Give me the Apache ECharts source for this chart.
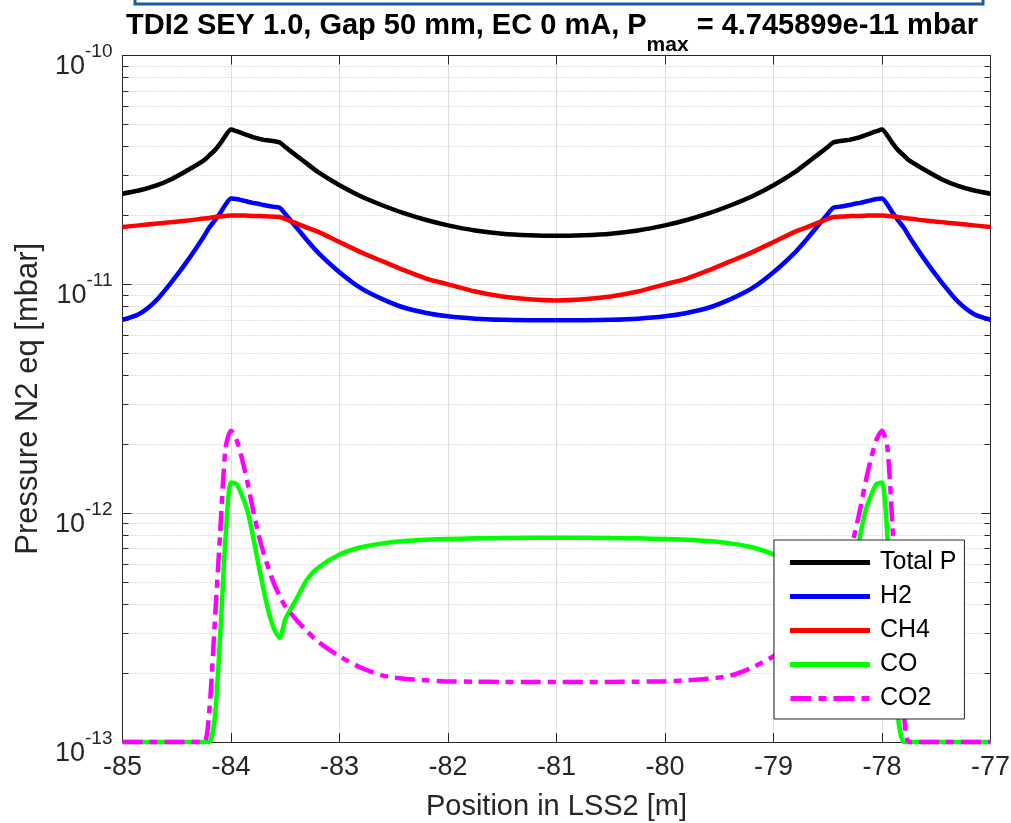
<!DOCTYPE html>
<html>
<head>
<meta charset="utf-8">
<script src="https://cdn.jsdelivr.net/npm/echarts@6/dist/echarts.min.js"></script>
<style>
html,body{margin:0;padding:0;background:#fff;}
#chart{width:1011px;height:823px;}
</style>
</head>
<body>
<div id="chart"></div>
<script>
// Position in LSS2 [m]
const positions = [
  -85, -84.85, -84.7, -84.55, -84.4, -84.25, -84.2, -84.15, -84.1, -84.05,
  -84.0, -83.95, -83.9, -83.85, -83.8, -83.75, -83.7, -83.65, -83.6, -83.55,
  -83.5, -83.4, -83.3, -83.2, -83.0, -82.8, -82.6, -82.4, -82.2, -82.0,
  -81.75, -81.5, -81.25, -81.0,
  -80.75, -80.5, -80.25, -80.0, -79.8, -79.6, -79.4, -79.2, -79.0, -78.8,
  -78.7, -78.6, -78.5, -78.45, -78.4, -78.35, -78.3, -78.25, -78.2, -78.15,
  -78.1, -78.05, -78.0, -77.95, -77.9, -77.85, -77.8, -77.75, -77.6, -77.45,
  -77.3, -77.15, -77.0
];

const totalP = [
  2.49e-11, 2.57e-11, 2.69e-11, 2.88e-11, 3.15e-11, 3.48e-11, 3.66e-11, 3.85e-11, 4.12e-11, 4.47e-11,
  4.746e-11, 4.67e-11, 4.58e-11, 4.49e-11, 4.40e-11, 4.34e-11, 4.28e-11, 4.25e-11, 4.22e-11, 4.17e-11,
  3.98e-11, 3.66e-11, 3.37e-11, 3.10e-11, 2.71e-11, 2.42e-11, 2.21e-11, 2.04e-11, 1.91e-11, 1.81e-11,
  1.72e-11, 1.665e-11, 1.64e-11, 1.63e-11,
  1.64e-11, 1.665e-11, 1.72e-11, 1.81e-11, 1.91e-11, 2.04e-11, 2.21e-11, 2.42e-11, 2.71e-11, 3.10e-11,
  3.37e-11, 3.66e-11, 3.98e-11, 4.17e-11, 4.22e-11, 4.25e-11, 4.28e-11, 4.34e-11, 4.40e-11, 4.49e-11,
  4.58e-11, 4.67e-11, 4.746e-11, 4.47e-11, 4.12e-11, 3.85e-11, 3.66e-11, 3.48e-11, 3.15e-11, 2.88e-11,
  2.69e-11, 2.57e-11, 2.49e-11
];

const h2 = [
  7.0e-12, 7.4e-12, 8.4e-12, 1.02e-11, 1.27e-11, 1.62e-11, 1.77e-11, 1.90e-11, 2.05e-11, 2.23e-11,
  2.37e-11, 2.36e-11, 2.33e-11, 2.30e-11, 2.27e-11, 2.25e-11, 2.22e-11, 2.20e-11, 2.18e-11, 2.16e-11,
  2.03e-11, 1.78e-11, 1.56e-11, 1.38e-11, 1.13e-11, 9.6e-12, 8.6e-12, 7.9e-12, 7.5e-12, 7.25e-12,
  7.08e-12, 7.0e-12, 6.97e-12, 6.96e-12,
  6.97e-12, 7.0e-12, 7.08e-12, 7.25e-12, 7.5e-12, 7.9e-12, 8.6e-12, 9.6e-12, 1.13e-11, 1.38e-11,
  1.56e-11, 1.78e-11, 2.03e-11, 2.16e-11, 2.18e-11, 2.20e-11, 2.22e-11, 2.25e-11, 2.27e-11, 2.30e-11,
  2.33e-11, 2.36e-11, 2.37e-11, 2.23e-11, 2.05e-11, 1.90e-11, 1.77e-11, 1.62e-11, 1.27e-11, 1.02e-11,
  8.4e-12, 7.4e-12, 7.0e-12
];

const ch4 = [
  1.78e-11, 1.81e-11, 1.84e-11, 1.87e-11, 1.90e-11, 1.94e-11, 1.95e-11, 1.97e-11, 1.98e-11, 1.99e-11,
  2.0e-11, 2.0e-11, 2.0e-11, 1.995e-11, 1.99e-11, 1.99e-11, 1.985e-11, 1.98e-11, 1.975e-11, 1.97e-11,
  1.93e-11, 1.85e-11, 1.77e-11, 1.70e-11, 1.53e-11, 1.38e-11, 1.26e-11, 1.15e-11, 1.06e-11, 1.0e-11,
  9.3e-12, 8.85e-12, 8.6e-12, 8.5e-12,
  8.6e-12, 8.85e-12, 9.3e-12, 1.0e-11, 1.06e-11, 1.15e-11, 1.26e-11, 1.38e-11, 1.53e-11, 1.70e-11,
  1.77e-11, 1.85e-11, 1.93e-11, 1.97e-11, 1.975e-11, 1.98e-11, 1.985e-11, 1.99e-11, 1.99e-11, 1.995e-11,
  2.0e-11, 2.0e-11, 2.0e-11, 1.99e-11, 1.98e-11, 1.97e-11, 1.95e-11, 1.94e-11, 1.90e-11, 1.87e-11,
  1.84e-11, 1.81e-11, 1.78e-11
];

const co = [
  1e-13, 1e-13, 1e-13, 1e-13, 1e-13, 1e-13, 1e-13, 1.26e-13, 2.9e-13, 7.9e-13,
  1.36e-12, 1.34e-12, 1.2e-12, 1.03e-12, 8.05e-13, 6.07e-13, 4.64e-13, 3.66e-13, 3.1e-13, 2.85e-13,
  3.43e-13, 4.19e-13, 5.12e-13, 5.76e-13, 6.6e-13, 7.1e-13, 7.38e-13, 7.55e-13, 7.65e-13, 7.71e-13,
  7.76e-13, 7.78e-13, 7.8e-13, 7.8e-13,
  7.8e-13, 7.78e-13, 7.76e-13, 7.71e-13, 7.65e-13, 7.55e-13, 7.38e-13, 7.1e-13, 6.6e-13, 5.76e-13,
  5.12e-13, 4.19e-13, 3.43e-13, 2.85e-13, 3.1e-13, 3.66e-13, 4.64e-13, 6.07e-13, 8.05e-13, 1.03e-12,
  1.2e-12, 1.34e-12, 1.36e-12, 7.9e-13, 2.9e-13, 1.26e-13, 1e-13, 1e-13, 1e-13, 1e-13,
  1e-13, 1e-13, 1e-13
];

const co2 = [
  1e-13, 1e-13, 1e-13, 1e-13, 1e-13, 1e-13, 1.37e-13, 3.3e-13, 8.2e-13, 1.93e-12,
  2.29e-12, 2.1e-12, 1.74e-12, 1.38e-12, 1.05e-12, 8.2e-13, 6.7e-13, 5.66e-13, 4.87e-13, 4.34e-13,
  3.92e-13, 3.43e-13, 3.05e-13, 2.75e-13, 2.37e-13, 2.11e-13, 1.95e-13, 1.89e-13, 1.86e-13, 1.84e-13,
  1.835e-13, 1.83e-13, 1.83e-13, 1.83e-13,
  1.83e-13, 1.83e-13, 1.835e-13, 1.84e-13, 1.86e-13, 1.89e-13, 1.95e-13, 2.11e-13, 2.37e-13, 2.75e-13,
  3.05e-13, 3.43e-13, 3.92e-13, 4.34e-13, 4.87e-13, 5.66e-13, 6.7e-13, 8.2e-13, 1.05e-12, 1.38e-12,
  1.74e-12, 2.1e-12, 2.29e-12, 1.93e-12, 8.2e-13, 3.3e-13, 1.37e-13, 1e-13, 1e-13, 1e-13,
  1e-13, 1e-13, 1e-13
];

const seriesNames = ['Total P', 'H2', 'CH4', 'CO', 'CO2'];
const seriesColors = ['#000000', '#0000ff', '#ff0000', '#00ff00', '#ff00ff'];
const seriesValues = [totalP, h2, ch4, co, co2];

// minor log grid values (2..9 x each decade)
const minorTickValues = [
  2e-13, 3e-13, 4e-13, 5e-13, 6e-13, 7e-13, 8e-13, 9e-13,
  2e-12, 3e-12, 4e-12, 5e-12, 6e-12, 7e-12, 8e-12, 9e-12,
  2e-11, 3e-11, 4e-11, 5e-11, 6e-11, 7e-11, 8e-11, 9e-11
];

const xMin = -85, xMax = -77, xInterval = 1;
const yMin = 1e-13, yMax = 1e-10;
const minorTickLen = 0.055; // in x units

const FONT = "'Liberation Sans', Arial, sans-serif";
const AX = '#262626';

function pairs(vals) {
  return positions.map((x, i) => [x, vals[i]]);
}

const series = seriesNames.map((name, i) => ({
  name: name,
  type: 'line',
  data: pairs(seriesValues[i]),
  symbol: 'none',
  showSymbol: false,
  smooth: 0.25,
  clip: false,
  z: 3,
  color: seriesColors[i],
  lineStyle: {
    color: seriesColors[i],
    width: 4.5,
    type: name === 'CO2' ? [20, 7, 8, 7] : 'solid'
  }
}));

// helper series: minor dotted grid + minor ticks on both sides
const gridLines = minorTickValues.map(v => [
  {coord: [xMin, v]}, {coord: [xMax, v]}
]);
const tickLines = [];
minorTickValues.forEach(v => {
  tickLines.push([{coord: [xMin, v]}, {coord: [xMin + minorTickLen, v]}]);
  tickLines.push([{coord: [xMax - minorTickLen, v]}, {coord: [xMax, v]}]);
});

function helperSeries(name, lines, style) {
  return {
    name: name,
    type: 'line',
    data: [[xMin, yMin], [xMax, yMin]],
    symbol: 'none',
    showSymbol: false,
    lineStyle: {opacity: 0, width: 0},
    z: 1,
    silent: true,
    markLine: {
      z: 1,
      silent: true,
      symbol: ['none', 'none'],
      label: {show: false},
      animation: false,
      lineStyle: style,
      data: lines
    }
  };
}
series.unshift(helperSeries('minorTicks', tickLines, {color: AX, width: 1, type: 'solid'}));
series.unshift(helperSeries('minorGrid', gridLines, {color: '#c4c4c4', width: 1, type: [1, 2]}));

const legendData = [
  {name: 'Total P', icon: 'rect'},
  {name: 'H2', icon: 'rect'},
  {name: 'CH4', icon: 'rect'},
  {name: 'CO', icon: 'rect'},
  {name: 'CO2', icon: 'path://M0,0H21V5H0Z M28,0H36V5H28Z M43,0H64V5H43Z M71,0H79V5H71Z'}
];

const chart = echarts.init(document.getElementById('chart'), null, {renderer: 'canvas'});
chart.setOption({
  backgroundColor: '#ffffff',
  animation: false,
  title: {
    text: '{a|TDI2 SEY 1.0, Gap 50 mm, EC 0 mA, P}{b|max}{a| = 4.745899e-11 mbar}',
    left: 121,
    top: 6,
    textStyle: {
      rich: {
        a: {fontSize: 29, fontWeight: 'bold', fontFamily: FONT, color: '#000', lineHeight: 32, verticalAlign: 'top'},
        b: {fontSize: 21, fontWeight: 'bold', fontFamily: FONT, color: '#000', lineHeight: 22, padding: [24, 0, 0, 0], verticalAlign: 'top'}
      }
    }
  },
  graphic: [{
    type: 'rect',
    shape: {x: 135, y: -10, width: 848, height: 14},
    style: {fill: 'none', stroke: '#1c5aa6', lineWidth: 3},
    silent: true
  }],
  grid: {left: 122.5, right: 20.5, top: 55.5, bottom: 81, containLabel: false, outerBoundsMode: 'none'},
  legend: {
    orient: 'vertical',
    left: 774,
    top: 540,
    z: 10,
    itemWidth: 80,
    itemHeight: 5,
    itemGap: 9,
    padding: [10, 8, 8, 16],
    backgroundColor: '#ffffff',
    borderColor: AX,
    borderWidth: 1,
    textStyle: {fontSize: 25, lineHeight: 24, color: '#000', fontFamily: FONT, padding: [0, 0, 0, 5]},
    data: legendData
  },
  xAxis: [{
    type: 'value',
    min: xMin, max: xMax, interval: xInterval,
    position: 'bottom',
    name: 'Position in LSS2 [m]',
    nameLocation: 'middle',
    nameGap: 50,
    nameTextStyle: {fontSize: 29, color: AX, fontFamily: FONT},
    axisLine: {show: true, onZero: false, lineStyle: {color: AX, width: 1}},
    axisTick: {show: true, inside: true, length: 9, lineStyle: {color: AX}},
    axisLabel: {fontSize: 27, color: AX, fontFamily: FONT, margin: 12},
    splitLine: {show: true, lineStyle: {color: '#dedede', width: 1}}
  }, {
    type: 'value',
    min: xMin, max: xMax, interval: xInterval,
    position: 'top',
    axisLine: {show: true, onZero: false, lineStyle: {color: AX, width: 1}},
    axisTick: {show: true, inside: true, length: 9, lineStyle: {color: AX}},
    axisLabel: {show: false},
    splitLine: {show: false}
  }],
  yAxis: [{
    type: 'log',
    logBase: 10,
    min: yMin, max: yMax,
    position: 'left',
    name: 'Pressure N2 eq [mbar]',
    nameLocation: 'middle',
    nameGap: 71,
    nameTextStyle: {fontSize: 31, color: AX, fontFamily: FONT},
    axisLine: {show: true, onZero: false, lineStyle: {color: AX, width: 1}},
    axisTick: {show: true, inside: true, length: 9, lineStyle: {color: AX}},
    axisLabel: {
      margin: 10,
      formatter: function (v) {
        const e = Math.round(Math.log(v) / Math.LN10);
        return '{b|10}{s|' + e + '}';
      },
      rich: {
        b: {fontSize: 27, color: AX, fontFamily: FONT, lineHeight: 28, padding: [12, 0, 0, 0], verticalAlign: 'top'},
        s: {fontSize: 19, color: AX, fontFamily: FONT, lineHeight: 20, padding: [1, 0, 0, 0], verticalAlign: 'top'}
      }
    },
    splitLine: {show: true, lineStyle: {color: '#dedede', width: 1}}
  }, {
    type: 'log',
    logBase: 10,
    min: yMin, max: yMax,
    position: 'right',
    axisLine: {show: true, onZero: false, lineStyle: {color: AX, width: 1}},
    axisTick: {show: true, inside: true, length: 9, lineStyle: {color: AX}},
    axisLabel: {show: false},
    splitLine: {show: false}
  }],
  series: series
});
</script>
</body>
</html>
